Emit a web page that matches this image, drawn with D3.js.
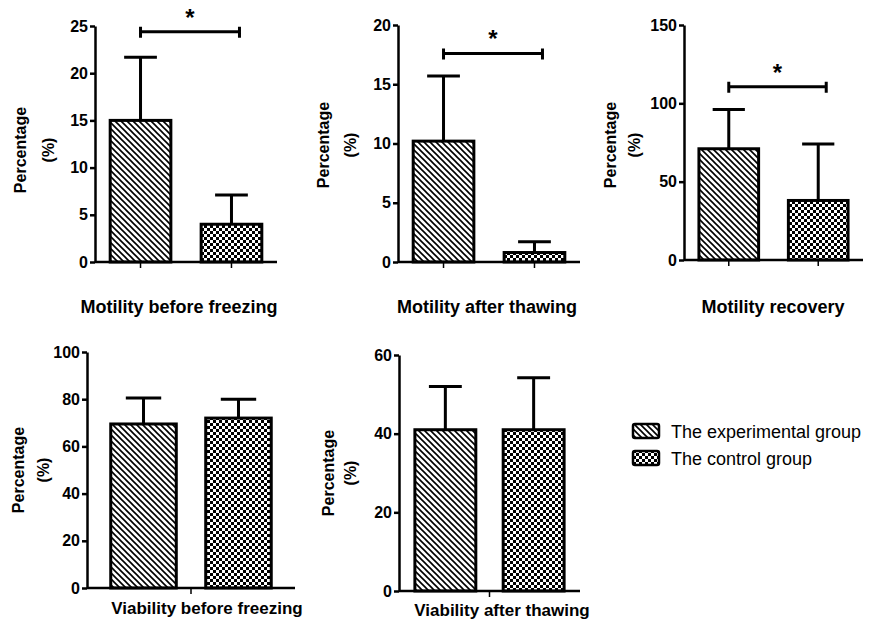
<!DOCTYPE html>
<meta charset="utf-8">
<style>
body { margin: 0; background: #fff; }
svg { font-family: "Liberation Sans", Arial, sans-serif; }
.axis path, .axis line { stroke: #000; stroke-width: 2.5px; }
.axis text { font-size: 16px; font-weight: bold; fill: #000; }
.bar { stroke: #000; stroke-width: 3px; }
.err { stroke: #000; stroke-width: 3px; fill: none; }
.sig { stroke: #000; stroke-width: 3px; fill: none; }
.title { font-weight: bold; }
.ylab { font-size: 16px; font-weight: bold; }
.legend text { font-size: 18px; }
</style>
<svg width="872" height="622"></svg>
<script src="https://cdn.jsdelivr.net/npm/d3@7"></script>
<script>

var groups = ["The experimental group", "The control group"];
var titles = ["Motility before freezing", "Motility after thawing", "Motility recovery",
              "Viability before freezing", "Viability after thawing"];
var expMean = [15, 10.2, 71, 69.5, 41];
var expErr = [6.7, 5.5, 25, 11, 11];
var ctrlMean = [4, 0.8, 38, 72, 41];
var ctrlErr = [3.1, 0.9, 36, 8, 13.2];
var yMax = [25, 20, 150, 100, 60];
var yStep = [5, 5, 50, 20, 20];
var sigLevel = [24.4, 17.6, 110.6, null, null];

// layout of each panel: axis x, right end, top, bottom, title position, y label position
var layout = [
  {x0: 95, x1: 277, top: 26, bottom: 262, pi: 0.333, po: 0.167, ticks: "each", tx: 179, ty: 313, fs: 18, lx: [20, 48], ly: 150},
  {x0: 398, x1: 580, top: 25, bottom: 262, pi: 0.333, po: 0.167, ticks: "each", tx: 487, ty: 313, fs: 18, lx: [323, 350], ly: 145},
  {x0: 684, x1: 863, top: 25, bottom: 260, pi: 0.333, po: 0.167, ticks: "each", tx: 773, ty: 313, fs: 18, lx: [610, 634], ly: 145},
  {x0: 87, x1: 295, top: 352, bottom: 588, pi: 0.31, po: 0.25, ticks: "mid", tx: 207, ty: 614, fs: 17, lx: [18, 43], ly: 470},
  {x0: 399, x1: 580, top: 355, bottom: 591, pi: 0.31, po: 0.18, ticks: "mid", tx: 502, ty: 616, fs: 17, lx: [328, 350], ly: 473}
];

var svg = d3.select("svg");
var defs = svg.append("defs");

var hatch = defs.append("pattern").attr("id", "hatch")
    .attr("patternUnits", "userSpaceOnUse").attr("width", 6).attr("height", 6);
hatch.append("rect").attr("width", 6).attr("height", 6).attr("fill", "#fff");
hatch.append("path").attr("d", "M-1,-1L7,7M-1,5L1,7M5,-1L7,1")
    .attr("stroke", "#000").attr("stroke-width", 1.6);

var checker = defs.append("pattern").attr("id", "checker")
    .attr("patternUnits", "userSpaceOnUse").attr("width", 6).attr("height", 6);
checker.append("rect").attr("width", 6).attr("height", 6).attr("fill", "#000");
checker.append("rect").attr("width", 3).attr("height", 3).attr("fill", "#fff");
checker.append("rect").attr("x", 3).attr("y", 3).attr("width", 3).attr("height", 3).attr("fill", "#fff");

var fills = ["url(#hatch)", "url(#checker)"];

titles.forEach(function(title, i) {
  var L = layout[i];
  var g = svg.append("g");
  var x = d3.scaleBand().domain([0, 1]).range([L.x0, L.x1]).paddingInner(L.pi).paddingOuter(L.po);
  var y = d3.scaleLinear().domain([0, yMax[i]]).range([L.bottom, L.top]);

  var data = [
    {k: 0, mean: expMean[i], err: expErr[i]},
    {k: 1, mean: ctrlMean[i], err: ctrlErr[i]}
  ];

  // error bars first, so the bar outline covers the stem base
  var cap = x.bandwidth() * 0.27;
  data.forEach(function(d) {
    var cx = x(d.k) + x.bandwidth() / 2;
    g.append("path").attr("class", "err")
        .attr("d", "M" + cx + "," + y(d.mean) + "V" + y(d.mean + d.err) +
                   "M" + (cx - cap) + "," + y(d.mean + d.err) + "H" + (cx + cap));
  });

  g.selectAll(".bar").data(data).enter().append("rect")
      .attr("class", "bar")
      .attr("x", function(d) { return x(d.k); })
      .attr("width", x.bandwidth())
      .attr("y", function(d) { return y(d.mean); })
      .attr("height", function(d) { return y(0) - y(d.mean); })
      .attr("fill", function(d) { return fills[d.k]; });

  g.append("g").attr("class", "axis")
      .attr("transform", "translate(" + L.x0 + ",0)")
      .call(d3.axisLeft(y).tickValues(d3.range(0, yMax[i] + 1, yStep[i])).tickSize(5).tickSizeOuter(0).tickPadding(2));

  // x axis line and category ticks
  g.append("line").attr("stroke", "#000").attr("stroke-width", 2.5)
      .attr("x1", L.x0).attr("x2", L.x1).attr("y1", L.bottom).attr("y2", L.bottom);
  var ticks = L.ticks === "each" ? [x(0) + x.bandwidth() / 2, x(1) + x.bandwidth() / 2]
                                 : [(x(0) + x.bandwidth() + x(1)) / 2];
  ticks.forEach(function(t) {
    g.append("line").attr("stroke", "#000").attr("stroke-width", 1.5)
        .attr("x1", t).attr("x2", t).attr("y1", L.bottom).attr("y2", L.bottom + 6);
  });

  if (sigLevel[i] != null) {
    var sx0 = x(0) + x.bandwidth() / 2, sx1 = x(1) + x.bandwidth() / 2 + 8;
    var sy = y(sigLevel[i]);
    g.append("path").attr("class", "sig")
        .attr("d", "M" + sx0 + "," + sy + "H" + sx1 +
                   "M" + sx0 + "," + (sy - 5) + "V" + (sy + 6) +
                   "M" + sx1 + "," + (sy - 5) + "V" + (sy + 6));
    g.append("text").attr("x", (sx0 + sx1) / 2).attr("y", sy - 6)
        .attr("text-anchor", "middle").style("font-size", "24px").style("font-weight", "bold").text("*");
  }

  g.append("text").attr("class", "title")
      .attr("x", L.tx).attr("y", L.ty).style("font-size", L.fs + "px")
      .attr("text-anchor", "middle").text(title);

  g.append("text").attr("class", "ylab").attr("text-anchor", "middle")
      .attr("transform", "translate(" + (L.lx[0] + 6) + "," + L.ly + ") rotate(-90)")
      .text("Percentage");
  g.append("text").attr("class", "ylab").attr("text-anchor", "middle")
      .attr("transform", "translate(" + (L.lx[1] + 6) + "," + L.ly + ") rotate(-90)")
      .text("(%)");
});

var leg = svg.append("g").attr("class", "legend");
groups.forEach(function(name, j) {
  var yy = 431 + j * 27;
  leg.append("rect").attr("x", 633).attr("y", yy - 7).attr("width", 26).attr("height", 14)
      .attr("rx", 2).attr("fill", fills[j]).attr("stroke", "#000").attr("stroke-width", 2.5);
  leg.append("text").attr("x", 671).attr("y", yy + 7).text(name);
});

</script>
